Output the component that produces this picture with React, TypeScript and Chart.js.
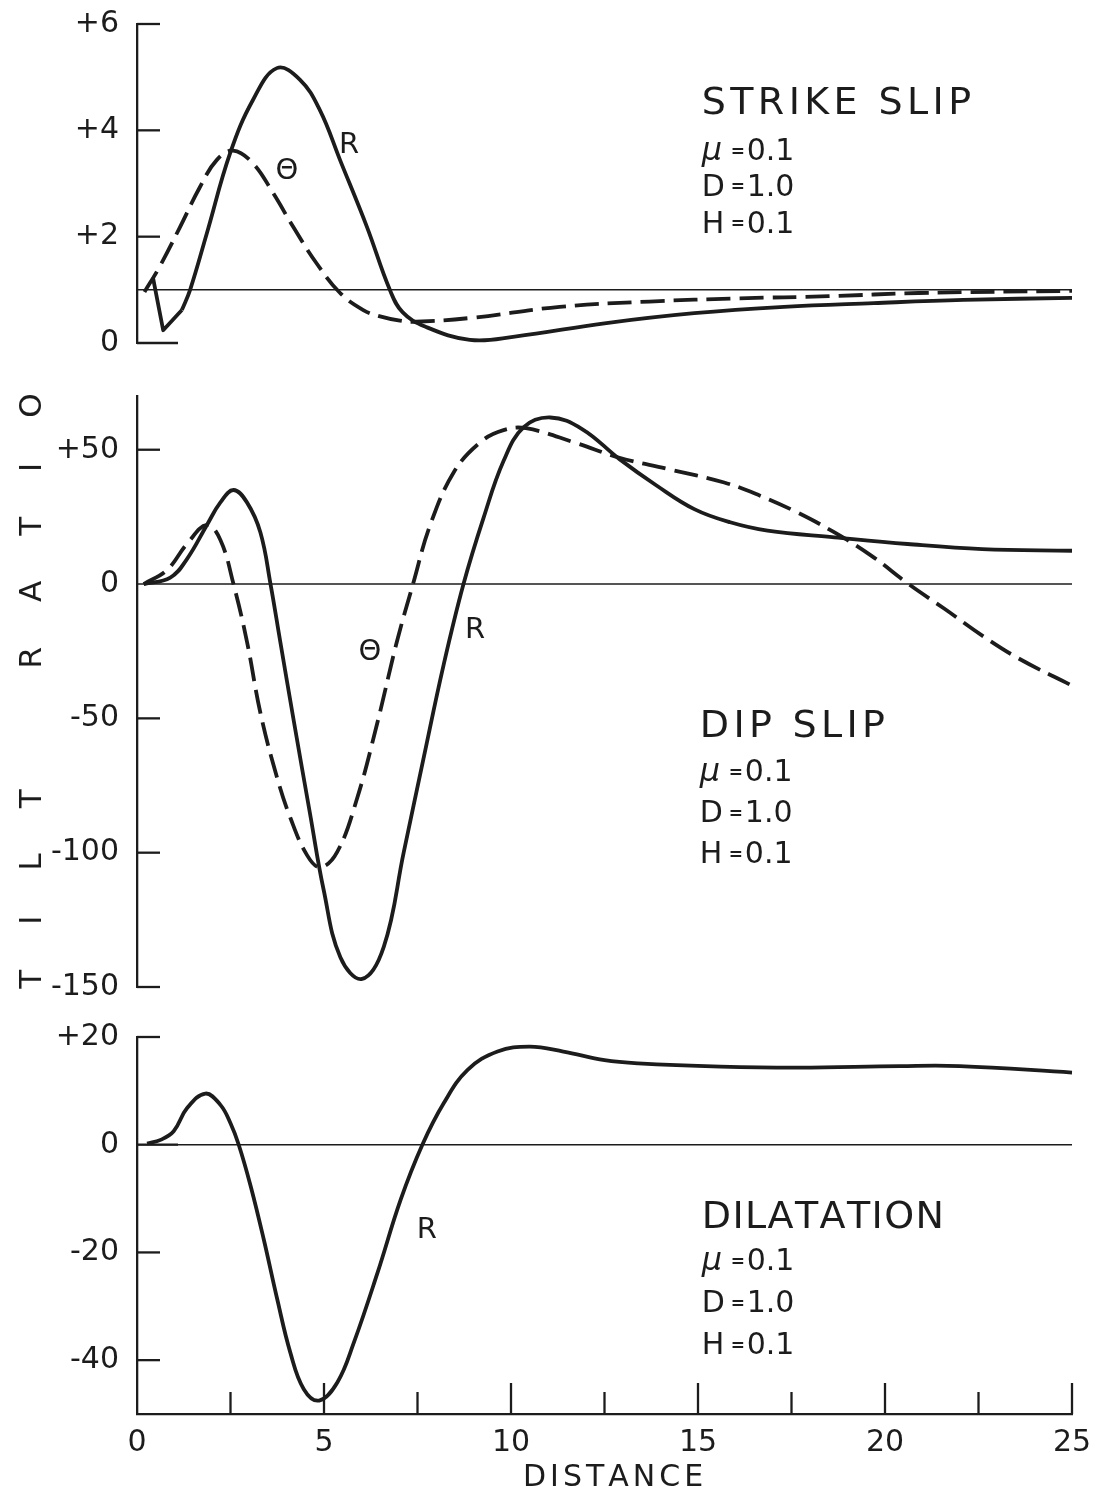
import React, { useEffect, useRef } from "react";
import { Chart, registerables } from "chart.js";

Chart.register(...registerables);

const INK = "#1c1c1c";
const FONT = '"DejaVu Sans", "Liberation Sans", sans-serif';
const PAGE_W = 1095;
const PAGE_H = 1497;

// Shared horizontal axis
const distanceMin = 0;
const distanceMax = 25;
const distanceMajor = [0, 5, 10, 15, 20, 25];
const distanceMinor = [2.5, 7.5, 12.5, 17.5, 22.5];

// Model parameters printed in every panel
const paramNames = ["μ", "D", "H"];
const paramValues = ["0.1", "1.0", "0.1"];

// STRIKE SLIP panel
const strikeTicks = [0, 2, 4, 6];
const strikeRDist = [0.43, 0.7, 1.2, 1.42, 1.87, 2.49, 3.1, 3.74, 4.36, 4.89, 5.43, 6.15, 6.76, 7.1, 7.7, 8.9, 10.1, 12.5, 14.9, 17.3, 19.7, 22.1, 25];
const strikeRTilt = [1.22, 0.24, 0.62, 1.0, 2.07, 3.57, 4.57, 5.17, 4.95, 4.38, 3.44, 2.18, 1.0, 0.58, 0.31, 0.06, 0.12, 0.37, 0.56, 0.68, 0.75, 0.81, 0.85];
const strikeRKnee = 2; // the first segments are ruled straight
const strikeThetaDist = [0.2, 0.6, 1.15, 1.68, 2.13, 2.57, 3.1, 3.64, 4.18, 4.8, 5.43, 6.05, 6.5, 7.03, 7.46, 8.9, 11.3, 13.7, 16.1, 18.5, 20.9, 25];
const strikeThetaTilt = [0.96, 1.43, 2.18, 2.93, 3.44, 3.62, 3.38, 2.82, 2.18, 1.5, 0.94, 0.62, 0.5, 0.42, 0.4, 0.47, 0.68, 0.78, 0.84, 0.88, 0.94, 0.98];

// DIP SLIP panel
const dipTicks = [-150, -100, -50, 0, 50];
const dipRDist = [0.18, 0.89, 1.34, 1.87, 2.23, 2.58, 2.94, 3.3, 3.57, 3.83, 4.19, 4.63, 4.99, 5.44, 6.02, 6.6, 7.13, 7.66, 8.2, 8.73, 9.27, 9.8, 10.34, 11.05, 11.9, 12.9, 13.9, 14.9, 15.86, 16.86, 18.65, 20.6, 22.6, 25];
const dipRTilt = [0, 2.4, 9.4, 22, 30.4, 35, 30.4, 19.2, 0, -21.4, -50.8, -85.8, -113.8, -139, -147, -135, -100, -65, -30, 0, 24.8, 45.8, 58.4, 62, 57.7, 46.5, 36.6, 27.9, 23, 19.9, 17.4, 14.9, 13, 12.4];
const dipThetaDist = [0.18, 0.8, 1.34, 1.87, 2.23, 2.58, 2.94, 3.3, 3.74, 4.1, 4.55, 4.9, 5.35, 5.88, 6.42, 6.95, 7.38, 7.84, 8.47, 9.18, 9.8, 10.4, 11.7, 12.9, 14.2, 15.7, 16.66, 17.65, 18.65, 19.64, 20.63, 21.6, 22.6, 23.6, 25];
const dipThetaTilt = [0, 5.2, 15, 22, 16.4, 0, -21.4, -48, -71.8, -87, -101, -105.4, -99.8, -80, -52, -21.4, 0, 22, 41.6, 52.8, 57.3, 58, 52.7, 47, 42.8, 37.8, 32.9, 26.7, 19.2, 10.5, 0, -9.3, -19.2, -27.9, -37.8];

// DILATATION panel
const dilTicks = [-40, -20, 0, 20];
const dilRDist = [0.27, 0.63, 0.98, 1.34, 1.83, 2.23, 2.5, 2.72, 3.04, 3.39, 3.75, 4.1, 4.46, 4.87, 5.36, 5.8, 6.43, 7.05, 7.63, 8.2, 8.84, 9.64, 10.5, 11.4, 12.5, 13.4, 15.6, 17.7, 20.4, 22, 25];
const dilRTilt = [0.2, 0.9, 2.5, 6.8, 9.5, 7.4, 4, 0, -7.7, -17.6, -28.7, -38.6, -45.4, -47.5, -44.1, -36.7, -23.8, -10.2, 0, 7.7, 13.9, 17.3, 18.2, 17.3, 15.7, 15.1, 14.5, 14.3, 14.6, 14.6, 13.4];

// Frame geometry of the three stacked panels (page pixels)
const FRAME_LEFT = 137;
const FRAME_RIGHT = 1072;

const pts = (xs: number[], ys: number[]) => xs.map((x, i) => ({ x, y: ys[i] }));

const curve = (xs: number[], ys: number[], dashed: boolean, smooth = true) => ({
  data: pts(xs, ys),
  borderColor: INK,
  borderWidth: 3.8,
  borderDash: dashed ? [24, 9] : [],
  borderCapStyle: "butt",
  borderJoinStyle: "round",
  pointRadius: 0,
  fill: false,
  clip: 8,
  tension: smooth ? 0.4 : 0,
  cubicInterpolationMode: "default",
});

type Spec = {
  name: string;
  top: number;
  bottom: number;
  yMin: number;
  yMax: number;
  yTicks: number[];
  baseline: number;
  zeroStub: boolean;
  datasets: any[];
  curveLabels: { text: string; x: number; y: number }[];
  info: { title: string; spacing: number; x: number; rows: number[] };
  showDistance: boolean;
  axisTitle: boolean;
};

const panels: Spec[] = [
  {
    name: "strike",
    top: 24,
    bottom: 343,
    yMin: 0,
    yMax: 6,
    yTicks: strikeTicks,
    baseline: 1,
    zeroStub: true,
    datasets: [
      curve(strikeRDist.slice(0, strikeRKnee + 1), strikeRTilt.slice(0, strikeRKnee + 1), false, false),
      curve(strikeRDist.slice(strikeRKnee), strikeRTilt.slice(strikeRKnee), false),
      curve(strikeThetaDist, strikeThetaTilt, true),
    ],
    curveLabels: [
      { text: "R", x: 5.67, y: 3.72 },
      { text: "Θ", x: 4.01, y: 3.22 },
    ],
    info: { title: "STRIKE SLIP", spacing: 4.4, x: 15.1, rows: [4.49, 3.59, 2.92, 2.22] },
    showDistance: false,
    axisTitle: false,
  },
  {
    name: "dip",
    top: 396,
    bottom: 987,
    yMin: -150,
    yMax: 70,
    yTicks: dipTicks,
    baseline: 0,
    zeroStub: false,
    datasets: [curve(dipRDist, dipRTilt, false), curve(dipThetaDist, dipThetaTilt, true)],
    curveLabels: [
      { text: "Θ", x: 6.23, y: -25.3 },
      { text: "R", x: 9.04, y: -17.1 },
    ],
    info: { title: "DIP SLIP", spacing: 4.3, x: 15.05, rows: [-53.3, -70.4, -85.7, -100.9] },
    showDistance: false,
    axisTitle: true,
  },
  {
    name: "dilatation",
    top: 1037,
    bottom: 1414,
    yMin: -50,
    yMax: 20,
    yTicks: dilTicks,
    baseline: 0,
    zeroStub: true,
    datasets: [curve(dilRDist, dilRTilt, false)],
    curveLabels: [{ text: "R", x: 7.75, y: -16 }],
    info: { title: "DILATATION", spacing: 1.4, x: 15.1, rows: [-13.6, -21.8, -29.6, -37.5] },
    showDistance: true,
    axisTitle: false,
  },
];

function strokeLine(ctx: CanvasRenderingContext2D, x1: number, y1: number, x2: number, y2: number) {
  ctx.beginPath();
  ctx.moveTo(x1, y1);
  ctx.lineTo(x2, y2);
  ctx.stroke();
}

// Letters drawn one by one so that the hand-lettered spacing can be kept.
function spacedWidth(ctx: CanvasRenderingContext2D, text: string, spacing: number) {
  let w = 0;
  for (const ch of text) w += ctx.measureText(ch).width;
  return w + spacing * (Array.from(text).length - 1);
}

function drawSpaced(ctx: CanvasRenderingContext2D, text: string, x: number, y: number, spacing: number, centered = false) {
  let cx = centered ? x - spacedWidth(ctx, text, spacing) / 2 : x;
  const prev = ctx.textAlign;
  ctx.textAlign = "left";
  for (const ch of text) {
    ctx.fillText(ch, cx, y);
    cx += ctx.measureText(ch).width + spacing;
  }
  ctx.textAlign = prev;
}

function makeDecor(spec: Spec) {
  return {
    id: "panelDecor",
    beforeDatasetsDraw(chart: any) {
      const { ctx, chartArea: a } = chart;
      const xs = chart.scales.x;
      const ys = chart.scales.y;
      ctx.save();
      ctx.strokeStyle = INK;
      ctx.lineCap = "butt";

      // thin reference line across the panel
      ctx.lineWidth = 1.5;
      const by = ys.getPixelForValue(spec.baseline);
      strokeLine(ctx, xs.getPixelForValue(distanceMin), by, xs.getPixelForValue(distanceMax), by);

      // tick marks pointing into the frame
      ctx.lineWidth = 2.3;
      for (const v of spec.yTicks) {
        const py = ys.getPixelForValue(v);
        const len = v === 0 ? (spec.zeroStub ? 41 : 0) : 23;
        if (len) strokeLine(ctx, a.left, py, a.left + len, py);
      }
      if (spec.showDistance) {
        for (const v of distanceMajor) {
          if (v === distanceMin) continue;
          const px = xs.getPixelForValue(v);
          strokeLine(ctx, px, a.bottom, px, a.bottom - 31);
        }
        for (const v of distanceMinor) {
          const px = xs.getPixelForValue(v);
          strokeLine(ctx, px, a.bottom, px, a.bottom - 22);
        }
      }
      ctx.restore();
    },
    afterDraw(chart: any) {
      const { ctx, chartArea: a } = chart;
      const xs = chart.scales.x;
      const ys = chart.scales.y;
      ctx.save();
      ctx.fillStyle = INK;
      ctx.textBaseline = "middle";

      // curve names
      ctx.font = `29px ${FONT}`;
      ctx.textAlign = "center";
      for (const l of spec.curveLabels) {
        ctx.fillText(l.text, xs.getPixelForValue(l.x), ys.getPixelForValue(l.y));
      }

      // case title and parameters
      ctx.textAlign = "left";
      const ix = xs.getPixelForValue(spec.info.x);
      ctx.font = `38px ${FONT}`;
      drawSpaced(ctx, spec.info.title, ix, ys.getPixelForValue(spec.info.rows[0]), spec.info.spacing);
      paramNames.forEach((name, i) => {
        const py = ys.getPixelForValue(spec.info.rows[i + 1]);
        ctx.font = i === 0 ? `italic 32px ${FONT}` : `30px ${FONT}`;
        ctx.fillText(name, ix, py);
        ctx.font = `bold 17px ${FONT}`;
        ctx.fillText("=", ix + 29, py);
        ctx.font = `30px ${FONT}`;
        ctx.fillText(paramValues[i], ix + 45, py);
      });

      // horizontal axis title
      if (spec.showDistance) {
        ctx.font = `30px ${FONT}`;
        drawSpaced(ctx, "DISTANCE", xs.getPixelForValue(12.73), a.bottom + 64, 4, true);
      }

      // vertical axis title, lettered along the side of the figure
      if (spec.axisTitle) {
        ctx.font = `31px ${FONT}`;
        const tx = a.left - 104;
        const words: [string, number][] = [
          ["TILT", a.top + 493],
          ["RATIO", a.top + 135],
        ];
        for (const [word, cy] of words) {
          ctx.save();
          ctx.translate(tx, cy);
          ctx.rotate(-Math.PI / 2);
          drawSpaced(ctx, word, 0, 0, 45, true);
          ctx.restore();
        }
      }
      ctx.restore();
    },
  };
}

function makeChart(canvas: HTMLCanvasElement, spec: Spec) {
  const tickFont = { family: FONT, size: 30 };
  return new Chart(canvas, {
    type: "line",
    data: { datasets: spec.datasets },
    options: {
      responsive: false,
      animation: false,
      devicePixelRatio: 1,
      events: [],
      layout: {
        padding: {
          top: spec.top,
          bottom: spec.showDistance ? 0 : PAGE_H - spec.bottom,
          left: 0,
          right: PAGE_W - FRAME_RIGHT,
        },
      },
      plugins: { legend: { display: false }, tooltip: { enabled: false } },
      scales: {
        x: {
          type: "linear",
          min: distanceMin,
          max: distanceMax,
          display: spec.showDistance,
          afterFit: (s: any) => {
            if (!spec.showDistance) return;
            s.height = PAGE_H - spec.bottom;
            s.paddingLeft = 0;
            s.paddingRight = 0;
          },
          afterBuildTicks: (s: any) => {
            s.ticks = distanceMajor.map((value) => ({ value }));
          },
          grid: { display: false, drawTicks: false },
          border: { display: true, color: INK, width: 2.3 },
          ticks: { color: INK, font: tickFont, padding: 11, maxRotation: 0, autoSkip: false },
        },
        y: {
          type: "linear",
          min: spec.yMin,
          max: spec.yMax,
          afterFit: (s: any) => {
            s.width = FRAME_LEFT;
            s.paddingTop = 0;
            s.paddingBottom = 0;
          },
          afterBuildTicks: (s: any) => {
            s.ticks = spec.yTicks.map((value) => ({ value }));
          },
          grid: { display: false, drawTicks: false },
          border: { display: true, color: INK, width: 2.3 },
          ticks: {
            color: INK,
            font: tickFont,
            padding: 18,
            autoSkip: false,
            callback: (v: any) => (Number(v) > 0 ? `+${v}` : `${v}`),
          },
        },
      },
    } as any,
    plugins: [makeDecor(spec)],
  });
}

export default function App() {
  const canvases = useRef<(HTMLCanvasElement | null)[]>([]);

  useEffect(() => {
    const charts = panels.map((spec, i) => makeChart(canvases.current[i] as HTMLCanvasElement, spec));
    return () => charts.forEach((c) => c.destroy());
  }, []);

  return (
    <div style={{ position: "absolute", left: 0, top: 0, width: PAGE_W, height: PAGE_H, background: "#fff" }}>
      {panels.map((p, i) => (
        <canvas
          key={p.name}
          ref={(el) => {
            canvases.current[i] = el;
          }}
          width={PAGE_W}
          height={PAGE_H}
          style={{ position: "absolute", left: 0, top: 0 }}
        />
      ))}
    </div>
  );
}
